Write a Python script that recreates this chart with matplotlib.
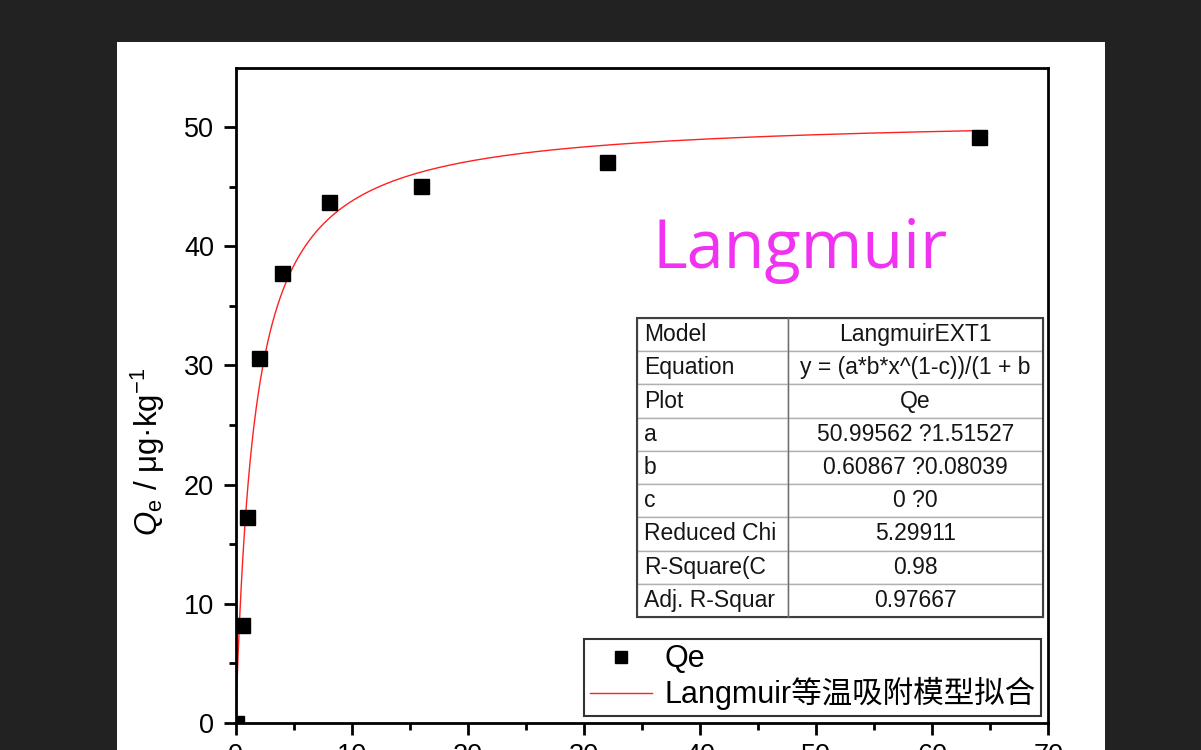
import numpy as np
import matplotlib
matplotlib.use("Agg")
import matplotlib.pyplot as plt
from matplotlib.patches import Rectangle

plt.rcParams['font.family'] = ['Liberation Sans', 'Noto Sans CJK SC', 'DejaVu Sans']
plt.rcParams['mathtext.fontset'] = 'custom'
plt.rcParams['mathtext.rm'] = 'Liberation Sans'
plt.rcParams['mathtext.it'] = 'Liberation Sans:italic'

# ---- data ----
ce = [0, 0.5, 1, 2, 4, 8, 16, 32, 64]
qe = [0, 8.2, 17.3, 30.6, 37.8, 43.7, 45.1, 47.1, 49.2]
fit_a = 50.99562
fit_b = 0.60867
fit_xmin, fit_xmax = 0.06, 64

table_labels = ["Model", "Equation", "Plot", "a", "b", "c",
                "Reduced Chi", "R-Square(C", "Adj. R-Squar"]
table_values = ["LangmuirEXT1", "y = (a*b*x^(1-c))/(1 + b", "Qe",
                "50.99562 ?1.51527", "0.60867 ?0.08039", "0 ?0",
                "5.29911", "0.98", "0.97667"]
xticks = [0, 10, 20, 30, 40, 50, 60, 70]
yticks = [0, 10, 20, 30, 40, 50]

W, H = 1201, 750
fig = plt.figure(figsize=(W / 100, H / 100), dpi=100, facecolor='#222222')
# white page
page = Rectangle((117 / W, 0), (1105 - 117) / W, (750 - 42) / H,
                 transform=fig.transFigure, facecolor='white',
                 edgecolor='none', zorder=-10)
fig.add_artist(page)

L, R, T, B = 235.7, 1048.5, 67.7, 722.7
ax = fig.add_axes([L / W, (H - B) / H, (R - L) / W, (B - T) / H])
ax.set_facecolor('white')

xf = np.geomspace(fit_xmin, fit_xmax, 500)
yf = fit_a * fit_b * xf / (1 + fit_b * xf)
ax.plot(ce, qe, linestyle='none', marker='s', markersize=10.8, color='black',
        label='Qe', zorder=3)
ax.plot(xf, yf, color='#ff2020', linewidth=1.0,
        label='Langmuir等温吸附模型拟合', zorder=2)

ax.set_xlim(0, 70)
ax.set_ylim(0, 55)
ax.set_xticks(xticks)
ax.set_yticks(yticks)
ax.set_xticks(np.arange(5, 70, 10), minor=True)
ax.set_yticks(np.arange(5, 55, 10), minor=True)
ax.tick_params(which='major', direction='out', length=8.6, width=2, labelsize=19.5,
               pad=6)
ax.tick_params(which='minor', direction='out', length=5, width=2)
ax.tick_params(axis='y', which='major', pad=7)
for s in ax.spines.values():
    s.set_linewidth(2.0)

ax.set_ylabel(r'$\mathit{Q}_{\mathrm{e}}$ / μg·kg$^{-1}$', fontsize=22.5)
ax.yaxis.set_label_coords(-0.084, 0.413)

ax.text((800 - L) / (R - L), (B - 250) / (B - T), 'Langmuir', transform=ax.transAxes,
        fontsize=48, color='#f033f0', family='Open Sans', ha='center', va='center')

# parameter table
tx0, tx1, ty0, ty1 = 637, 1043, 318, 617
bbox = [(tx0 - L) / (R - L), (B - ty1) / (B - T), (tx1 - tx0) / (R - L), (ty1 - ty0) / (B - T)]
cells = [[lab, val] for lab, val in zip(table_labels, table_values)]
tab = ax.table(cellText=cells, colWidths=[151 / 406, 255 / 406], bbox=bbox,
               cellLoc='center', zorder=5)
tab.auto_set_font_size(False)
tab.set_fontsize(16.5)
for (r, c), cell in tab.get_celld().items():
    cell.set_edgecolor('#b0b0b0')
    cell.set_linewidth(1.0)
    cell.set_facecolor('white')
    cell.get_text().set_color('#151515')
    if c == 0:
        cell._loc = 'left'
        cell.PAD = 0.045
        cell.get_text().set_ha('left')
ax.add_patch(Rectangle((bbox[0], bbox[1]), bbox[2], bbox[3], transform=ax.transAxes,
                       fill=False, edgecolor='#404040', linewidth=1.5, zorder=6))
ax.plot([bbox[0] + bbox[2] * 151 / 406] * 2, [bbox[1], bbox[1] + bbox[3]],
        transform=ax.transAxes, color='#707070', linewidth=1.0, zorder=6)

leg = ax.legend(loc='lower right', bbox_to_anchor=((1041 - L) / (R - L), (B - 716) / (B - T)),
                frameon=True, fancybox=False, edgecolor='#333333', framealpha=1,
                borderaxespad=0, fontsize=22, handlelength=2.05, handletextpad=0.4,
                labelspacing=0.1, borderpad=0.18, markerscale=0.85)
leg.get_frame().set_linewidth(1.5)

fig.savefig('out.png', dpi=100, facecolor=fig.get_facecolor())
